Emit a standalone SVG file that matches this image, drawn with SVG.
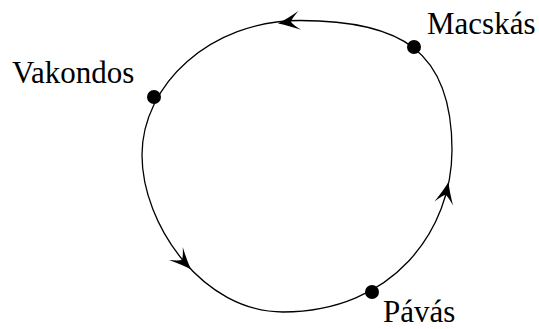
<svg xmlns="http://www.w3.org/2000/svg" width="539" height="329" viewBox="0 0 539 329">
<style>
.cyc{fill:none;stroke:#000;stroke-width:1.3}
.dot{fill:#000}
.lbl{font-family:"Liberation Serif","DejaVu Serif",serif;font-size:31px;fill:#000}
</style>
<defs>
<path id="ah" d="M0,0 Q-9,-3 -22,-9.5 Q-15,-3.5 -13,0 Q-15,3.5 -22,9.5 Q-9,3 0,0 Z" fill="#000"/>
</defs>
<rect width="539" height="329" fill="#fff"/>
<g id="connectors">
<path class="cyc" d="M300,20.5 C400,20.5 452,50 452,150 C452,230 393,312 283,312 C203,312 142,225 142,155 C142,85 210,20.5 300,20.5 Z"/>
<use href="#ah" transform="translate(278,23.5) rotate(172)"/>
<use href="#ah" transform="translate(191,269.5) rotate(46.5)"/>
<use href="#ah" transform="translate(448.5,182) rotate(-77.5)"/>
</g>
<g id="macskas"><circle class="dot" cx="414" cy="47" r="7"/><text class="lbl" x="427" y="34">Macskás</text></g>
<g id="vakondos"><circle class="dot" cx="154" cy="97" r="7"/><text class="lbl" x="12" y="83">Vakondos</text></g>
<g id="pavas"><circle class="dot" cx="372" cy="292" r="7"/><text class="lbl" x="383" y="322">Pávás</text></g>
</svg>
